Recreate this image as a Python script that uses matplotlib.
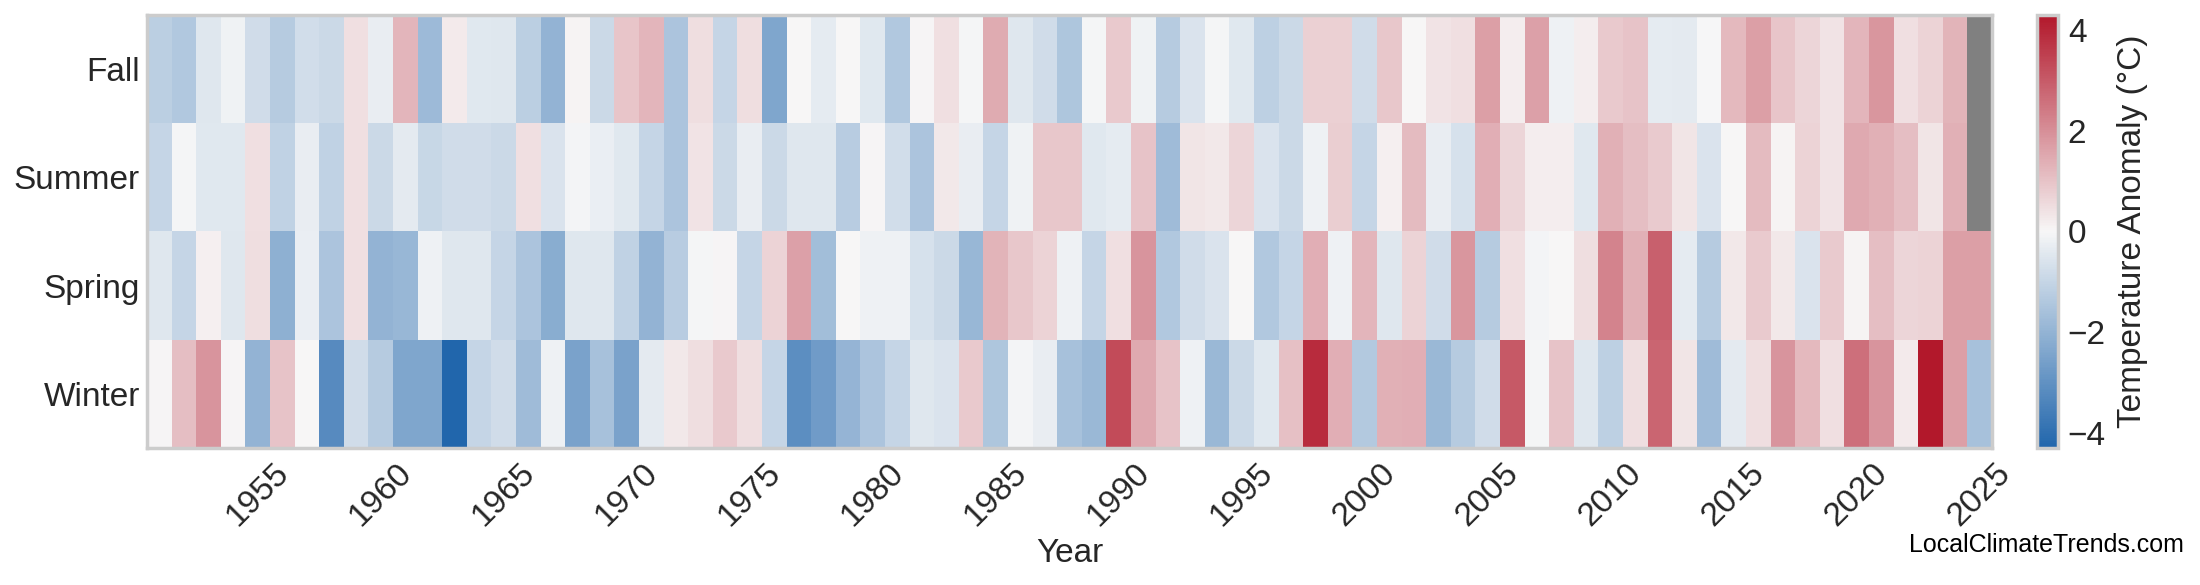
import matplotlib
matplotlib.use("Agg")
import matplotlib.pyplot as plt
import numpy as np
from matplotlib.colors import LinearSegmentedColormap

nan = float("nan")

years = list(range(1951, 2026))
seasons = ["Fall", "Summer", "Spring", "Winter"]

# seasonal anomalies in °C, one value per year 1951..2025
fall = [
    -1.2, -1.4, -0.5, -0.15, -0.8, -1.3, -0.75, -0.9, 0.45, -0.3,
    1.27, -1.8, 0.25, -0.45, -0.5, -1.2, -2.0, 0.1, -0.9, 0.95,
    1.25, -1.5, 0.5, -1.0, 0.5, -2.4, 0.0, -0.35, 0.03, -0.45,
    -1.4, 0.05, 0.45, -0.05, 1.45, -0.5, -0.8, -1.45, -0.05, 0.9,
    -0.15, -1.3, -0.6, -0.05, -0.45, -1.15, -0.9, 0.75, 0.75, -0.8,
    0.93, 0.0, 0.4, 0.45, 1.7, 0.2, 1.65, -0.2, 0.2, 0.9,
    1.0, -0.35, -0.4, -0.03, 1.2, 1.7, 0.95, 0.65, 0.4, 1.25,
    1.85, 0.45, 0.7, 1.3, nan,
]
summer = [
    -1.0, -0.05, -0.45, -0.45, 0.45, -1.1, -0.3, -1.1, 0.45, -0.9,
    -0.4, -0.95, -0.8, -0.8, -0.9, 0.45, -0.6, -0.1, -0.25, -0.45,
    -1.0, -1.5, 0.4, -0.9, -0.3, -0.9, -0.5, -0.5, -1.25, 0.05,
    -0.75, -1.5, 0.3, -0.3, -1.0, -0.15, 0.93, 0.93, -0.45, -0.35,
    1.0, -1.75, 0.35, 0.3, 0.65, -0.6, -0.9, -0.2, 0.8, -1.0,
    0.15, 1.15, -0.3, -0.65, 1.4, 0.65, 0.2, 0.2, -0.45, 1.35,
    1.1, 0.85, 0.35, -0.6, 0.0, 1.15, 0.1, 0.7, 0.4, 1.5,
    1.35, 1.1, 0.35, 1.35, nan,
]
spring = [
    -0.5, -1.0, 0.15, -0.5, 0.5, -2.1, -0.25, -1.5, 0.45, -2.0,
    -1.9, -0.2, -0.5, -0.5, -1.0, -1.5, -2.2, -0.5, -0.5, -1.1,
    -2.0, -1.25, -0.05, 0.05, -1.0, 0.7, 1.65, -1.7, 0.0, -0.2,
    -0.2, -0.65, -0.9, -1.9, 1.3, 0.93, 0.7, -0.2, -1.0, 0.45,
    1.9, -1.4, -0.8, -0.6, 0.0, -1.4, -1.0, 1.4, -0.2, 1.25,
    -0.5, 0.7, -0.8, 1.85, -1.3, 0.45, -0.1, 0.0, 0.5, 2.25,
    1.35, 2.9, -0.35, -1.3, 0.3, 0.85, 0.3, -0.6, 0.85, 0.1,
    1.1, 0.65, 0.7, 1.7, 1.7,
]
winter = [
    0.05, 1.1, 1.9, 0.05, -2.0, 1.0, 0.0, -3.2, -0.8, -1.3,
    -2.4, -2.4, -4.3, -1.0, -0.8, -1.75, -0.2, -2.5, -1.6, -2.5,
    -0.4, 0.3, 0.5, 0.9, 0.5, -1.0, -3.1, -2.7, -1.95, -1.5,
    -1.0, -0.5, -0.6, 0.9, -1.45, -0.1, -0.3, -1.6, -1.85, 3.3,
    1.5, 1.0, -0.2, -1.85, -0.9, -0.45, 1.05, 3.9, 1.4, -1.35,
    1.35, 1.4, -1.85, -1.3, -0.8, 3.05, -0.05, 1.0, -0.5, -1.15,
    0.5, 2.8, 0.35, -1.75, -0.4, 0.5, 1.9, 1.2, 0.45, 2.6,
    1.9, 0.25, 4.3, 1.7, -1.6,
]

plt.rcParams["font.family"] = ["Liberation Sans", "DejaVu Sans"]
text_color = "#262626"

data = np.ma.masked_invalid(np.array([fall, summer, spring, winter], dtype=float))
limit = float(np.abs(data).max())

cmap = LinearSegmentedColormap.from_list("anomaly", ["#2166ac", "#f7f7f7", "#b2182b"])
cmap.set_bad("#808080")

fig = plt.figure(figsize=(11, 2.925), dpi=200)
ax = fig.add_axes([0.0668, 0.2342, 0.8387, 0.7402])
cax = fig.add_axes([0.9259, 0.2342, 0.0096, 0.7402])

mesh = ax.pcolormesh(data, cmap=cmap, vmin=-limit, vmax=limit,
                     edgecolors="face", linewidth=0)
ax.set_ylim(len(seasons), 0)
ax.set_xlim(0, len(years))

ax.set_yticks(np.arange(len(seasons)) + 0.5)
ax.set_yticklabels(seasons, fontsize=12)
tick_idx = [i for i, y in enumerate(years) if y % 5 == 0]
ax.set_xticks(np.array(tick_idx) + 0.5)
ax.set_xticklabels([str(years[i]) for i in tick_idx], rotation=45, fontsize=12)
ax.tick_params(length=0, colors=text_color)
ax.tick_params(axis="y", pad=2.5)
ax.tick_params(axis="x", pad=3.5)
ax.set_xlabel("Year", fontsize=12, color=text_color, labelpad=2)
for spine in ax.spines.values():
    spine.set_color("#cccccc")
    spine.set_linewidth(1.25)

cbar = fig.colorbar(mesh, cax=cax)
cbar.set_ticks([-4, -2, 0, 2, 4])
cbar.outline.set_edgecolor("#cccccc")
cbar.outline.set_linewidth(1.25)
cbar.ax.tick_params(length=0, labelsize=12, colors=text_color)
cbar.set_label("Temperature Anomaly (°C)", fontsize=12, color=text_color)

fig.text(0.9927, 0.068, "LocalClimateTrends.com", ha="right", va="center",
         fontsize=9, color="black")

fig.savefig("out.png", dpi=200)
